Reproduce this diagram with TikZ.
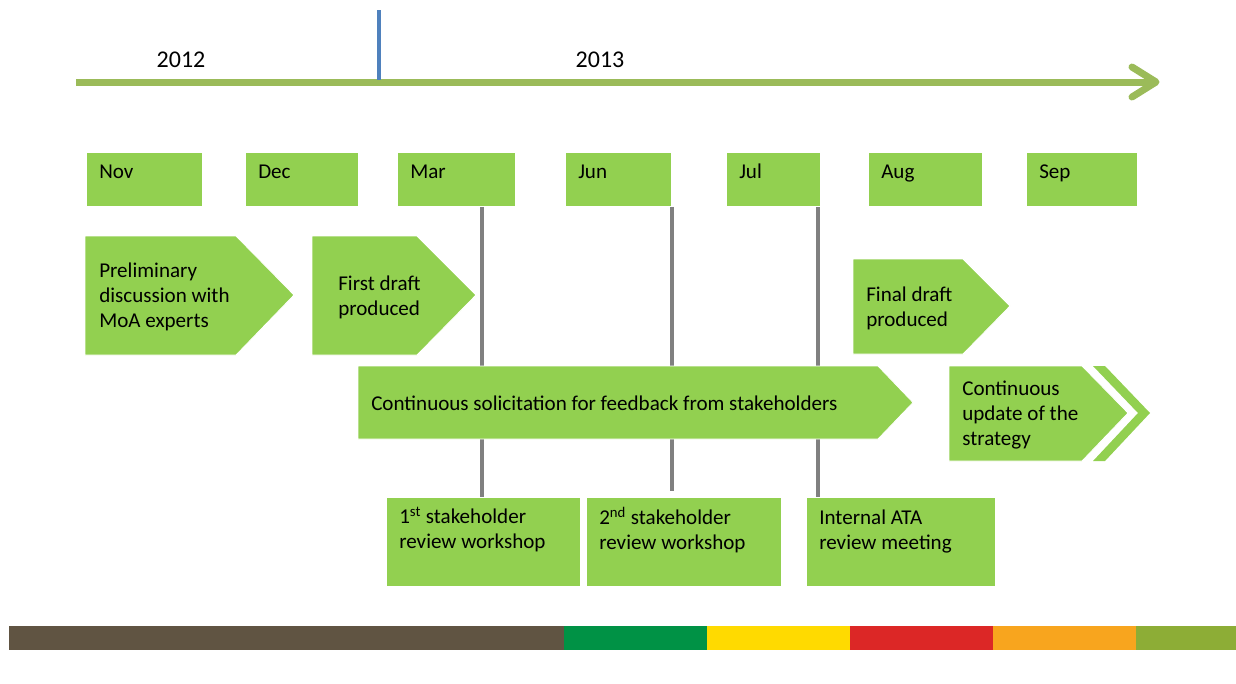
\documentclass[tikz,border=0pt]{standalone}
\usepackage{fontspec}
\setmainfont{Carlito}
\definecolor{boxgreen}{HTML}{92D050}
\definecolor{axisgreen}{HTML}{9BBB59}
\definecolor{yearblue}{HTML}{4F81BD}
\definecolor{stemgray}{HTML}{808080}
\definecolor{barbrown}{HTML}{605442}
\definecolor{bargreen}{HTML}{009245}
\definecolor{baryellow}{HTML}{FFDA00}
\definecolor{barred}{HTML}{DC2726}
\definecolor{barorange}{HTML}{F8A51E}
\definecolor{barolive}{HTML}{8DAD36}
\begin{document}
\begin{tikzpicture}[x=0.75pt,y=-0.75pt,
  txt/.style={font=\fontsize{15.8}{18.75}\selectfont, inner sep=0pt, align=left, text=black},
  month/.style={fill=boxgreen, draw=white, line width=0.6pt, minimum width=#1*0.75pt, minimum height=54*0.75pt, anchor=north west, inner sep=0pt},
  stage/.style={fill=boxgreen, draw=white, line width=0.6pt},
  event/.style={fill=boxgreen, draw=white, line width=0.6pt, anchor=north west, inner sep=0pt},
  stem/.style={draw=stemgray, line width=3pt},
  lbl/.style={txt, anchor=west},
  mlbl/.style={txt, anchor=base west},
  year/.style={txt, font=\fontsize{18}{20}\selectfont, anchor=base}]
\useasboundingbox (0,0) rectangle (1236,683);

% time axis
\draw[axisgreen, line width=5.25pt] (76,82) -- (1154,82);
\draw[axisgreen, line width=5.25pt, line cap=round, line join=round] (1132,67) -- (1156,82) -- (1132,97);
\draw[yearblue, line width=2.4pt] (379,10) -- (379,80);
\node[year] (y2012) at (181,67.5) {2012};
\node[year] (y2013) at (600,67.5) {2013};

% milestone stems
\coordinate (s1) at (482,0);
\coordinate (s2) at (672,0);
\coordinate (s3) at (818,0);

% month boxes
\node[month=116] (nov) at (86,152) {};
\node[month=113] (dec) at (245,152) {};
\node[month=118] (mar) at (397,152) {};
\node[month=106] (jun) at (565,152) {};
\node[month=94]  (jul) at (726,152) {};
\node[month=114] (aug) at (868,152) {};
\node[month=111] (sep) at (1026,152) {};
\node[mlbl] at (99,178) {Nov};
\node[mlbl] at (258,178) {Dec};
\node[mlbl] at (410,178) {Mar};
\node[mlbl] at (578,178) {Jun};
\node[mlbl] at (739,178) {Jul};
\node[mlbl] at (881,178) {Aug};
\node[mlbl] at (1039,178) {Sep};

% bottom event boxes
\node[event, minimum width=194*0.75pt, minimum height=89*0.75pt] (w1) at (386,497) {};
\node[event, minimum width=195*0.75pt, minimum height=89*0.75pt] (w2) at (586,497) {};
\node[event, minimum width=189*0.75pt, minimum height=89*0.75pt] (ata) at (806,497) {};

\draw[stem] (mar.south -| s1) -- (w1.north -| s1);
\draw[stem] (jun.south -| s2) -- ([yshift=4.5pt]w2.north -| s2);
\draw[stem] (jul.south -| s3) -- (ata.north -| s3);

\node[lbl] at (399,530) {1\textsuperscript{st} stakeholder\\review workshop};
\node[lbl] at (599,530) {2\textsuperscript{nd} stakeholder\\review workshop};
\node[lbl] at (819,531) {Internal ATA\\review meeting};

% stage arrows
\draw[stage] (85,236) -- (236,236) -- (294,295) -- (236,355) -- (85,355) -- cycle;
\node[lbl] (prelim) at (99,297) {Preliminary\\discussion with\\MoA experts};

\draw[stage] (312,236) -- (417,236) -- (476,295) -- (417,355) -- (312,355) -- cycle;
\node[lbl] (first) at (338,297.5) {First draft\\produced};

\draw[stage] (358,366) -- (878,366) -- (913,402.5) -- (878,439) -- (358,439) -- cycle;
\node[lbl] (cont) at (371,403) {Continuous solicitation for feedback from stakeholders};

\draw[stage] (853,259) -- (963,259) -- (1010,306) -- (963,354) -- (853,354) -- cycle;
\node[lbl] (final) at (866,308.5) {Final draft\\produced};

\draw[stage] (949,366) -- (1082,366) -- (1128,413) -- (1082,461) -- (949,461) -- cycle;
\fill[boxgreen] (1093,366) -- (1105,366) -- (1150,413) -- (1105,461) -- (1093,461) -- (1138,413) -- cycle;
\node[lbl] (update) at (962,415) {Continuous\\update of the\\strategy};

% colour band
\fill[barbrown]  (9,626) rectangle (564,650);
\fill[bargreen]  (564,626) rectangle (707,650);
\fill[baryellow] (707,626) rectangle (850,650);
\fill[barred]    (850,626) rectangle (993,650);
\fill[barorange] (993,626) rectangle (1136,650);
\fill[barolive]  (1136,626) rectangle (1236,650);
\end{tikzpicture}
\end{document}
